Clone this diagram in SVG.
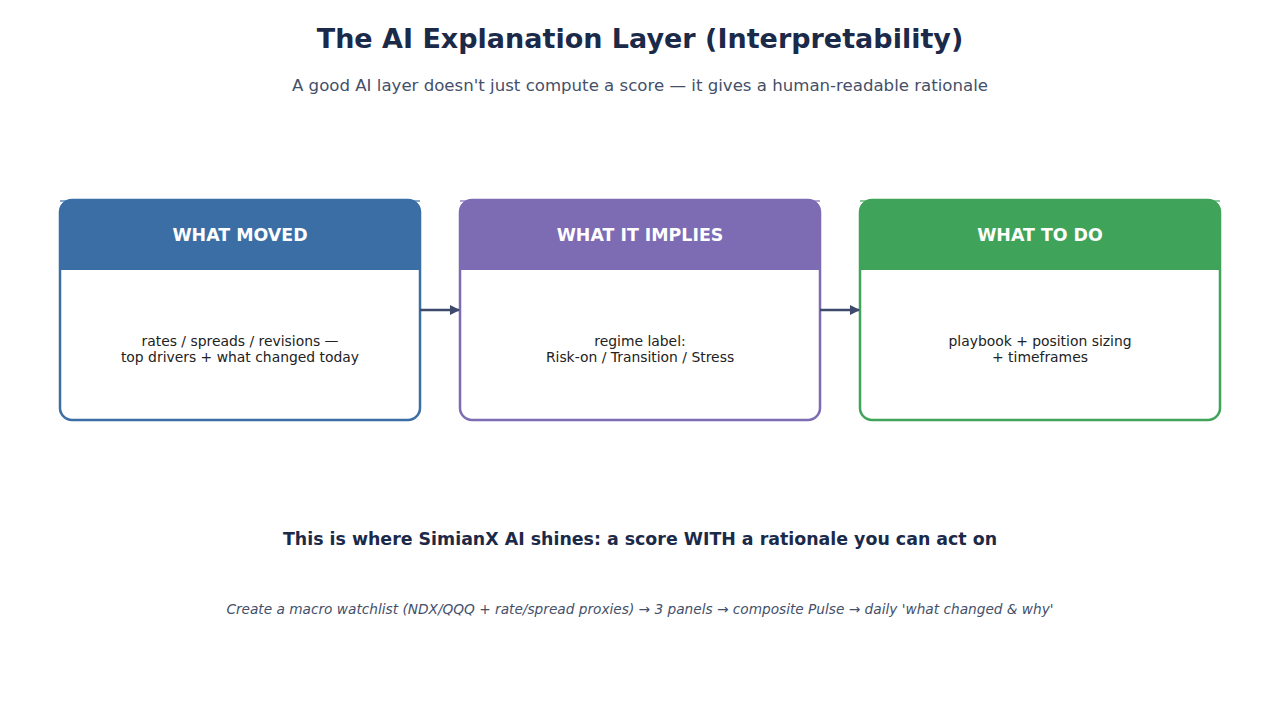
<svg xmlns="http://www.w3.org/2000/svg" width="1280" height="720" viewBox="0 0 1280 720">
<defs>
<marker id="arr" viewBox="0 0 10 10" refX="9" refY="5" markerWidth="10" markerHeight="10" markerUnits="userSpaceOnUse" orient="auto"><path d="M0,0 L10,5 L0,10 z" fill="#3d4a6b"/></marker>
</defs>
<style>
text{font-family:"DejaVu Sans",sans-serif}
.title{font-size:27px;font-weight:bold;fill:#1c2a4a}
.sub{font-size:16.6px;fill:#44506a}
.hdr{font-size:17.4px;font-weight:bold;fill:#fff}
.body{font-size:13.9px;fill:#222}
.tag{font-size:17.4px;font-weight:bold;fill:#1c2a4a}
.foot{font-size:13.7px;font-style:italic;fill:#44506a}
.box{fill:#fff;stroke-width:2.5}
.conn{stroke:#3d4a6b;stroke-width:2.5;fill:none}
</style>
<rect width="1280" height="720" fill="#fff"/>
<text class="title" x="640" y="48" text-anchor="middle">The AI Explanation Layer (Interpretability)</text>
<text class="sub" x="640" y="91" text-anchor="middle">A good AI layer doesn't just compute a score — it gives a human-readable rationale</text>

<g id="node-moved">
<rect class="box" x="60" y="200" width="360" height="220" rx="12" stroke="#3a6ea5"/>
<path d="M60,270 L60,212 Q60,200 72,200 L408,200 Q420,200 420,212 L420,270 Z" fill="#3a6ea5"/>
<rect x="60" y="200" width="360" height="2" fill="#3a6ea5" opacity="0.6"/>
<text class="hdr" x="240" y="241" text-anchor="middle">WHAT MOVED</text>
<text class="body" x="240" y="346" text-anchor="middle">rates / spreads / revisions —</text>
<text class="body" x="240" y="362" text-anchor="middle">top drivers + what changed today</text>
</g>

<g id="node-implies">
<rect class="box" x="460" y="200" width="360" height="220" rx="12" stroke="#7d6bb3"/>
<path d="M460,270 L460,212 Q460,200 472,200 L808,200 Q820,200 820,212 L820,270 Z" fill="#7d6bb3"/>
<rect x="460" y="200" width="360" height="2" fill="#7d6bb3" opacity="0.6"/>
<text class="hdr" x="640" y="241" text-anchor="middle">WHAT IT IMPLIES</text>
<text class="body" x="640" y="346" text-anchor="middle">regime label:</text>
<text class="body" x="640" y="362" text-anchor="middle">Risk-on / Transition / Stress</text>
</g>

<g id="node-todo">
<rect class="box" x="860" y="200" width="360" height="220" rx="12" stroke="#3fa35a"/>
<path d="M860,270 L860,212 Q860,200 872,200 L1208,200 Q1220,200 1220,212 L1220,270 Z" fill="#3fa35a"/>
<rect x="860" y="200" width="360" height="2" fill="#3fa35a" opacity="0.6"/>
<text class="hdr" x="1040" y="241" text-anchor="middle">WHAT TO DO</text>
<text class="body" x="1040" y="346" text-anchor="middle">playbook + position sizing</text>
<text class="body" x="1040" y="362" text-anchor="middle">+ timeframes</text>
</g>

<g id="connectors">
<line class="conn" x1="420" y1="310" x2="459" y2="310" marker-end="url(#arr)"/>
<line class="conn" x1="820" y1="310" x2="859" y2="310" marker-end="url(#arr)"/>
</g>

<text class="tag" x="640" y="545" text-anchor="middle">This is where SimianX AI shines: a score WITH a rationale you can act on</text>
<text class="foot" x="640" y="614" text-anchor="middle">Create a macro watchlist (NDX/QQQ + rate/spread proxies) → 3 panels → composite Pulse → daily 'what changed &amp; why'</text>
</svg>
